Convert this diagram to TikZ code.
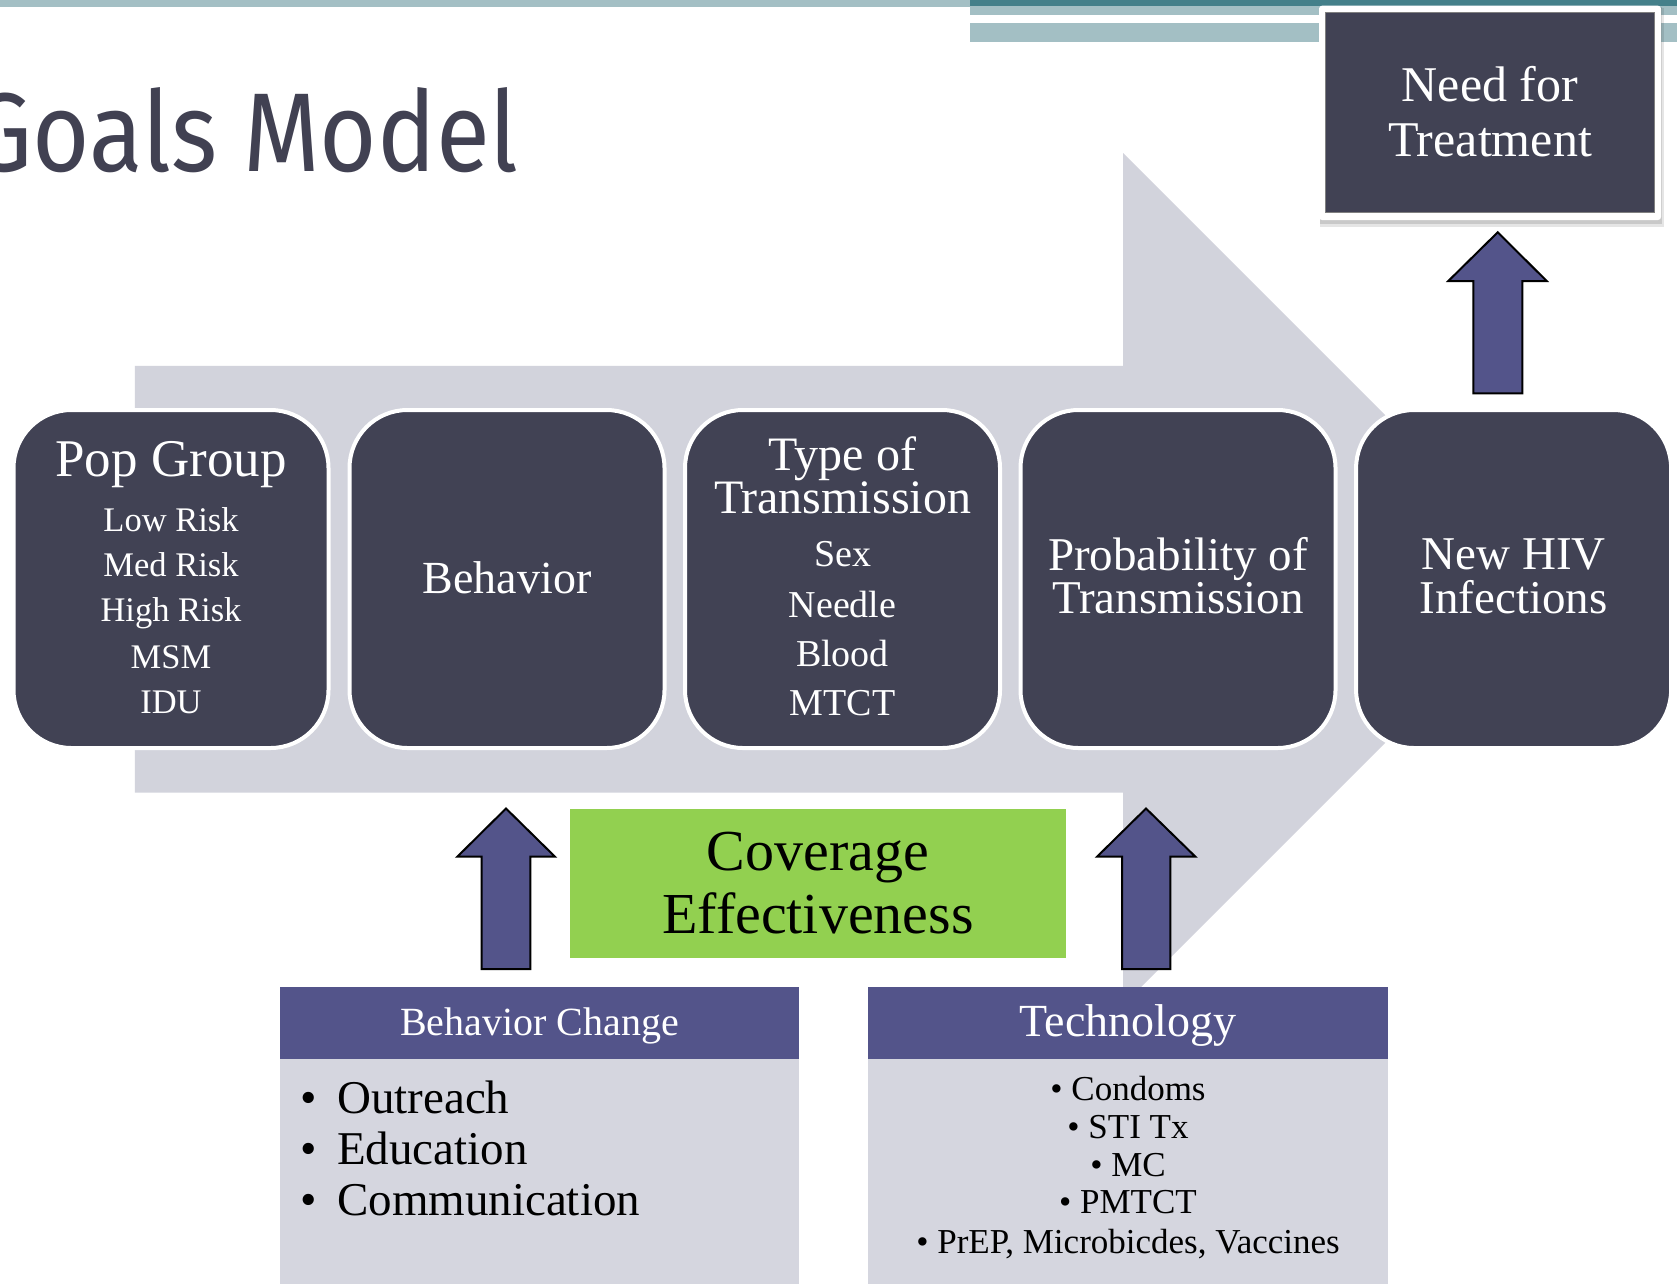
\documentclass[tikz,border=0pt]{standalone}
\usepackage{fontspec}
\setmainfont{Liberation Serif}
\newfontfamily\titlefont{Fira Sans}
\definecolor{tealL}{HTML}{A3BFC4}
\definecolor{tealD}{HTML}{44808A}
\definecolor{boxdark}{HTML}{414254}
\definecolor{arrowgray}{HTML}{D2D3DC}
\definecolor{purp}{HTML}{53548A}
\definecolor{lgreen}{HTML}{92D050}
\definecolor{bodygray}{HTML}{D5D6DF}
\definecolor{titlecol}{HTML}{414152}
\newcommand{\fs}[1]{\fontsize{#1}{#1}\selectfont}
\newcommand{\bul}[1]{\makebox[#1][l]{\textbullet}}
\begin{document}
\begin{tikzpicture}[x=1pt,y=-1pt,
  box/.style={draw=white, line width=4pt, fill=boxdark, rounded corners=58pt,
    minimum width=315pt, minimum height=338pt, inner sep=0pt},
  wtxt/.style={text=white, inner sep=0pt, anchor=base},
  btxt/.style={text=black, inner sep=0pt, anchor=base},
  firstln/.style={text depth=0pt},
  secondln/.style={text height=28pt},
  uparrow/.style={fill=purp, draw=black, line width=2pt, line join=miter},
  hdr/.style={fill=purp, minimum width=519.3pt, minimum height=72.6pt, inner sep=0pt}]
\useasboundingbox (0,0) rectangle (1677,1283);
\clip (0,0) rectangle (1677,1283);
\fill[white] (0,0) rectangle (1677,1283);
% top bars
\fill[tealL] (0,0) rectangle (970,7);
\fill[tealD] (970,0) rectangle (1677,6);
\fill[tealL] (970,6) rectangle (1677,15);
\fill[tealL] (970,23) rectangle (1677,42);
% title
\node[text=titlecol, inner sep=0pt, anchor=base east, xscale=0.88, font=\titlefont\fs{112}] (title) at (519,171) {Goals Model};
% big background arrow
\fill[arrowgray] (134.8,365.8) -- (1123,365.8) -- (1123,153) -- (1549,579) -- (1123,1005) -- (1123,792.5) -- (134.8,792.5) -- cycle;
% boxes
\node[box] (b1) at (171,579) {};
\node[box] (b2) at (507,579) {};
\node[box] (b3) at (842.5,579) {};
\node[box] (b4) at (1178,579) {};
\node[box] (b5) at (1513.6,579) {};
% box 1 text
\node[wtxt, font=\fs{53}] (t1) at (171,476) {Pop Group};
\node[wtxt, font=\fs{34.5}] (t1a) at (171,531.7) {Low Risk};
\node[wtxt, font=\fs{34.5}] (t1b) at (171,576.7) {Med Risk};
\node[wtxt, font=\fs{34.5}] (t1c) at (171,621.7) {High Risk};
\node[wtxt, font=\fs{34.5}] (t1d) at (171,668.3) {MSM};
\node[wtxt, font=\fs{34.5}] (t1e) at (171,713.3) {IDU};
% box 2
\node[wtxt, font=\fs{46}] (t2) at (507,593) {Behavior};
% box 3
\node[wtxt, align=center, font={\fontsize{48}{42.6}\selectfont}] (t3a) at (842.5,513.3) {Type of\\Transmission};
\node[wtxt, font=\fs{38}] (t3c) at (842.5,566.7) {Sex};
\node[wtxt, font=\fs{38}] (t3d) at (842.5,617.3) {Needle};
\node[wtxt, font=\fs{38}] (t3e) at (842.5,666.7) {Blood};
\node[wtxt, font=\fs{38}] (t3f) at (842.5,715) {MTCT};
% box 4
\node[wtxt, firstln, font=\fs{47}] (t4a) at (1178,570) {Probability of};
\node[wtxt, secondln, font=\fs{47}] (t4b) at (1178,613.3) {Transmission};
% box 5
\node[wtxt, firstln, font=\fs{47}] (t5a) at (1513.6,569.3) {New HIV};
\node[wtxt, secondln, font=\fs{47}] (t5b) at (1513.6,613.3) {Infections};
% need for treatment
\fill[black, opacity=0.10] (1320,8) rectangle (1664,227);
\fill[black, opacity=0.12] (1320,7) rectangle (1662,224);
\fill[white, rounded corners=3pt] (1319,5.7) rectangle (1661,220);
\node[fill=boxdark, draw=gray, line width=1pt, minimum width=329pt, minimum height=200pt, inner sep=0pt] (need) at (1490,112.8) {};
\node[wtxt, firstln, font=\fs{50}] (n1) at (1490,101.7) {Need for};
\node[wtxt, secondln, font=\fs{50}] (n2) at (1490,156.7) {Treatment};
% up arrow to need
\draw[uparrow] (1497.7,232.3) -- (1546.7,281) -- (1522.3,281) -- (1522.3,393.3) -- (1473.3,393.3) -- (1473.3,281) -- (1448.3,281) -- cycle;
% coverage box
\node[fill=lgreen, minimum width=496pt, minimum height=148.7pt, inner sep=0pt] (cov) at (818,883.35) {};
\node[btxt, firstln, font=\fs{58}] (cv1) at (818,870) {Coverage};
\node[btxt, secondln, font=\fs{58}] (cv2) at (818,933) {Effectiveness};
% lower arrows
\draw[uparrow] (506,808.5) -- (555,856.7) -- (530.3,856.7) -- (530.3,969) -- (481.5,969) -- (481.5,856.7) -- (457.3,856.7) -- cycle;
\draw[uparrow] (1146,808.5) -- (1195.4,856.7) -- (1170.4,856.7) -- (1170.4,969) -- (1122,969) -- (1122,856.7) -- (1097,856.7) -- cycle;
% behavior change box
\fill[bodygray] (280,1059.3) rectangle (799.3,1290);
\node[hdr] (bch) at (539.65,1023) {};
\node[wtxt, font=\fs{40}] (bct) at (539.65,1035) {Behavior Change};
\node[btxt, anchor=base west, font=\fs{47}] (bc1) at (300,1113) {\bul{37pt}Outreach};
\node[btxt, anchor=base west, font=\fs{47}] (bc2) at (300,1164) {\bul{37pt}Education};
\node[btxt, anchor=base west, font=\fs{47}] (bc3) at (300,1215) {\bul{37pt}Communication};
% technology box
\fill[bodygray] (868.3,1059.3) rectangle (1387.6,1290);
\node[hdr] (tch) at (1128,1023) {};
\node[wtxt, font=\fs{46}] (tct) at (1128,1036.7) {Technology};
\node[btxt, font=\fs{35}] (tc1) at (1128,1100) {\textbullet\ Condoms};
\node[btxt, font=\fs{35}] (tc2) at (1128,1138) {\textbullet\ STI Tx};
\node[btxt, font=\fs{35}] (tc3) at (1128,1176) {\textbullet\ MC};
\node[btxt, font=\fs{35}] (tc4) at (1128,1213) {\textbullet\ PMTCT};
\node[btxt, font=\fs{35}] (tc5) at (1128,1253) {\textbullet\ PrEP, Microbicdes, Vaccines};
\end{tikzpicture}
\end{document}
